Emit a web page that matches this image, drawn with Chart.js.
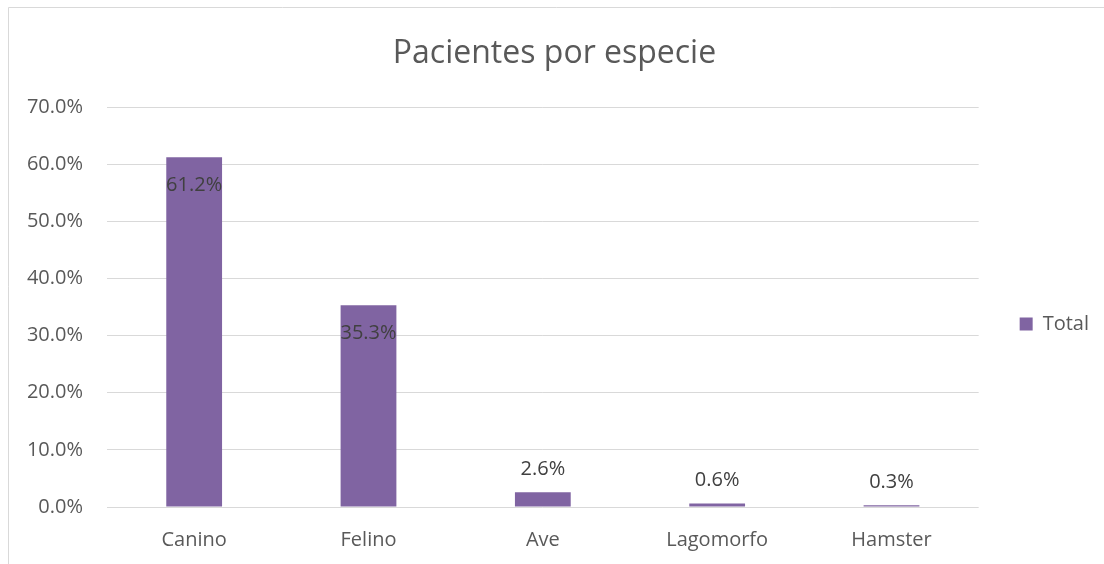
<!DOCTYPE html>
<html>
<head>
<meta charset="utf-8">
<script src="https://cdn.jsdelivr.net/npm/chart.js@4/dist/chart.umd.min.js"></script>
<style>
  html, body { margin: 0; padding: 0; background: #fff; }
  #wrap { width: 1104px; height: 564px; }
</style>
</head>
<body>
<div id="wrap"><canvas id="myChart" width="1104" height="564"></canvas></div>
<script>
// datos
const especies = ["Canino", "Felino", "Ave", "Lagomorfo", "Hamster"];
const totales = [61.2, 35.3, 2.6, 0.6, 0.3];
const yTicks = [0, 10, 20, 30, 40, 50, 60, 70];

const morado = '#8064A2';
const gris = '#595959';
const fuente = "'Open Sans', sans-serif";

const ctx = document.getElementById('myChart').getContext("2d");

// marco y fondo
const marco = {
    id: 'marco',
    beforeDraw(chart) {
        const c = chart.ctx;
        c.save();
        c.fillStyle = '#fff';
        c.fillRect(0, 0, chart.width, chart.height);
        c.strokeStyle = '#d9d9d9';
        c.lineWidth = 1;
        c.beginPath();
        c.moveTo(8.5, chart.height + 2);
        c.lineTo(8.5, 7.5);
        c.lineTo(chart.width + 2, 7.5);
        c.stroke();
        c.restore();
    }
};

// etiquetas de datos
const etiquetas = {
    id: 'etiquetas',
    afterDatasetsDraw(chart) {
        const c = chart.ctx;
        const meta = chart.getDatasetMeta(0);
        c.save();
        c.font = "20px " + fuente;
        c.fillStyle = '#404040';
        c.textAlign = 'center';
        c.textBaseline = 'middle';
        meta.data.forEach((bar, i) => {
            const v = totales[i];
            const y = v > 10 ? bar.y + 28 : bar.y - 23;
            c.fillText(v.toFixed(1) + '%', bar.x, y);
        });
        c.restore();
    }
};

const data = {
    labels: especies,
    datasets: [{
        label: 'Total',
        backgroundColor: morado,
        borderWidth: 0,
        data: totales,
        categoryPercentage: 1,
        barPercentage: 0.32,
    }],
};

const config = {
    type: 'bar',
    data: data,
    options: {
        responsive: false,
        animation: false,
        layout: { padding: { left: 10, right: 5, top: 0, bottom: 0 } },
        plugins: {
            title: {
                display: true,
                text: 'Pacientes por especie',
                color: gris,
                font: { family: fuente, size: 32, weight: 'normal' },
                padding: { top: 35, bottom: 33.6 },
            },
            legend: {
                position: 'right',
                title: {
                    display: true,
                    text: '',
                    font: { family: fuente, size: 20 },
                    padding: 30,
                },
                labels: {
                    color: gris,
                    font: { family: fuente, size: 20 },
                    boxWidth: 13,
                    boxHeight: 13,
                    padding: 41,
                },
            },
            tooltip: { enabled: false },
        },
        scales: {
            x: {
                grid: { display: false },
                border: { display: false },
                ticks: {
                    color: gris,
                    font: { family: fuente, size: 20 },
                    padding: 13,
                },
                afterFit(s) { s.height = 57; },
            },
            y: {
                min: 0,
                max: 70,
                afterBuildTicks(s) { s.ticks = yTicks.map(v => ({ value: v })); },
                grid: { color: '#d9d9d9', drawTicks: false },
                border: { display: false },
                ticks: {
                    color: gris,
                    font: { family: fuente, size: 20 },
                    padding: 24,
                    callback: function(value){
                        return value.toFixed(1) + "%"
                    }
                },
                afterFit(s) { s.width = 97; },
            }
        }
    },
    plugins: [marco, etiquetas],
};

const myChart = new Chart(ctx, config);
</script>
</body>
</html>
